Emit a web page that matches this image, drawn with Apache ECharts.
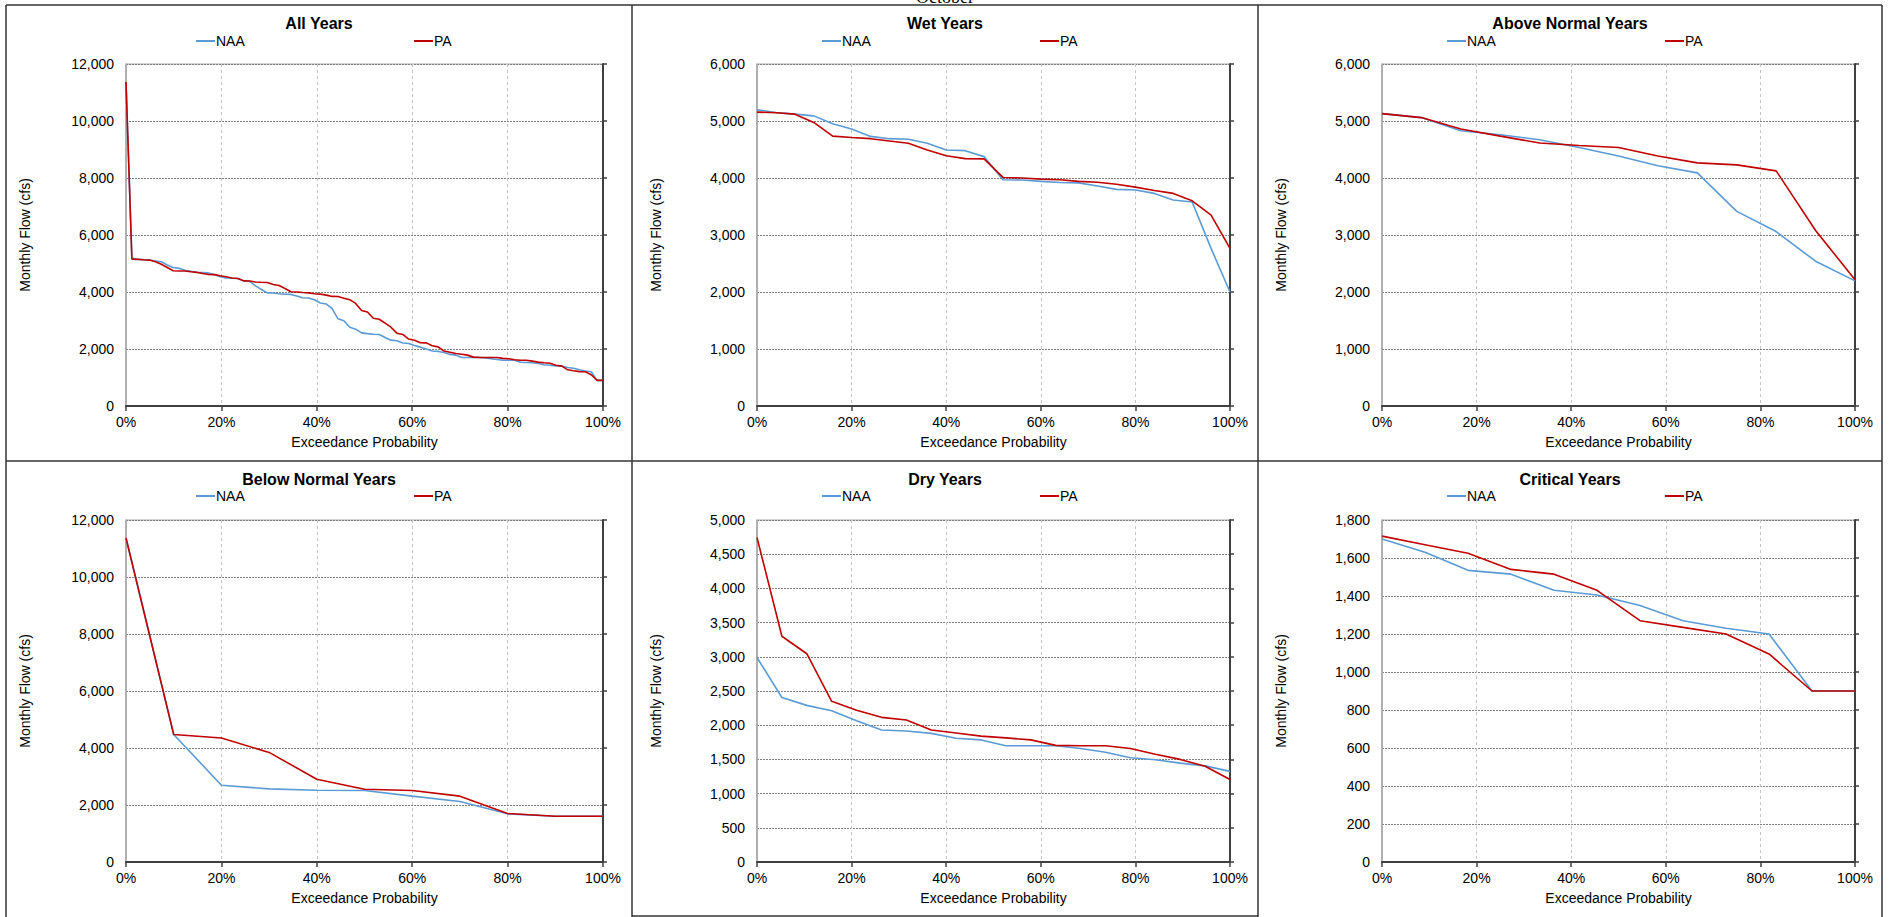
<!DOCTYPE html>
<html>
<head>
<meta charset="utf-8">
<script src="https://cdn.jsdelivr.net/npm/echarts@6/dist/echarts.min.js"></script>
<style>
html,body{margin:0;padding:0;background:#fff;}
#chart{width:1889px;height:917px;}
</style>
</head>
<body>
<div id="chart"></div>
<script>
// ---------------- DATA ----------------
const figureTitle = 'October';
const panelTitles = ['All Years', 'Wet Years', 'Above Normal Years', 'Below Normal Years', 'Dry Years', 'Critical Years'];
const seriesNames = ['NAA', 'PA'];
const xAxisName = 'Exceedance Probability';
const yAxisName = 'Monthly Flow (cfs)';
const yMaxes = [12000, 6000, 6000, 12000, 5000, 1800];
const yIntervals = [2000, 1000, 1000, 2000, 500, 200];

const naaAll = [11370, 5195, 5150, 5130, 5120, 5090, 5060, 4950, 4860, 4830, 4760, 4730, 4690, 4680, 4670, 4610,
  4535, 4490, 4480, 4475, 4385, 4375, 4215, 4090, 3970, 3965, 3940, 3920, 3915, 3860, 3800, 3790, 3730, 3615,
  3580, 3415, 3060, 2990, 2765, 2695, 2565, 2540, 2520, 2510, 2405, 2310, 2290, 2210, 2195, 2120, 2065, 2000,
  1930, 1915, 1880, 1810, 1785, 1700, 1700, 1700, 1700, 1690, 1660, 1630, 1605, 1605, 1605, 1535, 1525, 1515,
  1495, 1445, 1430, 1405, 1405, 1350, 1325, 1270, 1230, 1200, 900, 900];
const paAll = [11370, 5155, 5145, 5130, 5120, 5060, 4975, 4860, 4745, 4735, 4735, 4710, 4690, 4650, 4615, 4610,
  4570, 4535, 4490, 4475, 4390, 4385, 4350, 4340, 4335, 4265, 4230, 4125, 4010, 4000, 3980, 3970, 3940, 3925,
  3890, 3845, 3840, 3780, 3730, 3600, 3350, 3300, 3080, 3045, 2905, 2765, 2555, 2510, 2350, 2310, 2220, 2215,
  2115, 2075, 1930, 1885, 1840, 1815, 1785, 1715, 1705, 1700, 1700, 1700, 1670, 1660, 1625, 1605, 1605, 1575,
  1540, 1515, 1500, 1430, 1400, 1270, 1235, 1205, 1200, 1095, 900, 900];

const naaWet = [5195, 5150, 5120, 5090, 4950, 4860, 4730, 4690, 4680, 4610, 4490, 4480, 4375, 3970, 3965, 3940,
  3920, 3915, 3860, 3800, 3790, 3730, 3615, 3580, 2765, 2000];
const paWet = [5155, 5145, 5120, 4975, 4735, 4710, 4690, 4650, 4610, 4490, 4390, 4340, 4335, 4010, 4000, 3980,
  3970, 3940, 3925, 3890, 3840, 3780, 3730, 3600, 3350, 2765];

const naaAN = [5130, 5060, 4830, 4760, 4670, 4535, 4385, 4215, 4090, 3415, 3060, 2540, 2195];
const paAN = [5130, 5060, 4860, 4735, 4615, 4570, 4535, 4385, 4265, 4230, 4125, 3080, 2215];

const naaBN = [11370, 4475, 2695, 2565, 2520, 2510, 2310, 2120, 1690, 1605, 1605];
const paBN = [11370, 4475, 4350, 3845, 2905, 2555, 2510, 2310, 1700, 1605, 1605];

const naaDry = [2990, 2405, 2290, 2210, 2065, 1930, 1915, 1880, 1810, 1785, 1700, 1700, 1700, 1660, 1605, 1525,
  1495, 1445, 1405, 1325];
const paDry = [4745, 3300, 3045, 2350, 2220, 2115, 2075, 1930, 1885, 1840, 1815, 1785, 1705, 1700, 1700, 1660,
  1575, 1500, 1400, 1205];

const naaCrit = [1700, 1630, 1535, 1515, 1430, 1405, 1350, 1270, 1230, 1200, 900, 900];
const paCrit = [1715, 1670, 1625, 1540, 1515, 1430, 1270, 1235, 1200, 1095, 900, 900];

const panelData = [
  [naaAll, paAll], [naaWet, paWet], [naaAN, paAN],
  [naaBN, paBN], [naaDry, paDry], [naaCrit, paCrit]
];

// ---------------- LAYOUT / STYLE ----------------
const FONT = 'Liberation Sans, Arial, sans-serif';
const colors = ['#5b9bd5', '#c00000'];
const colLeft = [126, 757, 1382];
const colWidth = [477, 473, 473];
const rowTop = [64, 520];
const plotH = 342;
const panelLeft = [6, 632, 1258];
const panelRight = [632, 1258, 1882];
const rowTitleY = [23, 479];
const rowLegendTop = [34, 489];

// exceedance probability (percent) of each ranked value
function withExceedance(vals) {
  const n = vals.length;
  return vals.map((v, i) => [i * 100 / (n - 1), v]);
}

const grids = [], xAxes = [], yAxes = [], series = [], legends = [], graphics = [];

panelTitles.forEach((title, p) => {
  const c = p % 3, r = Math.floor(p / 3);
  grids.push({
    left: colLeft[c], top: rowTop[r], width: colWidth[c], height: plotH,
    show: true, borderColor: '#a6a6a6', borderWidth: 1, backgroundColor: 'transparent'
  });
  xAxes.push({
    type: 'value', gridIndex: p, min: 0, max: 100, interval: 20,
    name: xAxisName, nameLocation: 'middle', nameGap: 29,
    nameTextStyle: { fontFamily: FONT, fontSize: 14, color: '#000' },
    axisLine: { show: true, lineStyle: { color: '#404040', width: 2 } },
    axisTick: { show: true, inside: false, length: 5, lineStyle: { color: '#404040', width: 1.5 } },
    axisLabel: { fontFamily: FONT, fontSize: 14, color: '#000', margin: 9, formatter: '{value}%' },
    splitLine: { show: true, lineStyle: { color: '#c4c4c4', type: [3, 3], width: 1 } }
  });
  const fmt = v => v.toLocaleString('en-US');
  yAxes.push({
    type: 'value', gridIndex: p, min: 0, max: yMaxes[p], interval: yIntervals[p], position: 'left',
    name: yAxisName, nameLocation: 'middle', nameGap: 94,
    nameTextStyle: { fontFamily: FONT, fontSize: 14, color: '#000' },
    axisLine: { show: true, lineStyle: { color: '#a6a6a6', width: 1.5 } },
    axisTick: { show: false },
    axisLabel: { fontFamily: FONT, fontSize: 14, color: '#000', margin: 12, formatter: fmt },
    splitLine: { show: true, lineStyle: { color: '#7f7f7f', type: [2, 1], width: 1 } }
  });
  yAxes.push({
    type: 'value', gridIndex: p, min: 0, max: yMaxes[p], interval: yIntervals[p], position: 'right',
    axisLine: { show: true, lineStyle: { color: '#404040', width: 2 } },
    axisTick: { show: true, inside: false, length: 4, lineStyle: { color: '#404040', width: 1.5 } },
    axisLabel: { show: false },
    splitLine: { show: false }
  });
  seriesNames.forEach((nm, s) => {
    series.push({
      name: nm, type: 'line', xAxisIndex: p, yAxisIndex: 2 * p,
      data: withExceedance(panelData[p][s]),
      symbol: 'none', showSymbol: false, smooth: false,
      lineStyle: { color: colors[s], width: 1.6 },
      itemStyle: { color: colors[s] },
      emphasis: { disabled: true },
      z: 3 + s
    });
  });
  const pc = (panelLeft[c] + panelRight[c]) / 2;
  const legendX = [pc - 123, pc + 95];
  seriesNames.forEach((nm, s) => {
    legends.push({
      data: [nm], left: legendX[s], top: rowLegendTop[r], padding: 0,
      icon: 'rect', itemWidth: 19, itemHeight: 2, itemGap: 0, selectedMode: false,
      itemStyle: { color: colors[s], borderWidth: 0 },
      textStyle: { fontFamily: FONT, fontSize: 14, color: '#000', padding: [0, 0, 0, -4] }
    });
  });
  graphics.push({
    type: 'text', x: pc, y: rowTitleY[r], silent: true,
    style: { text: title, fontFamily: FONT, fontSize: 16, fontWeight: 'bold', fill: '#000',
      align: 'center', verticalAlign: 'middle' }
  });
});

// panel frame lines
const frame = [
  [6, 5, 1882, 5], [6, 5, 6, 917], [1882, 5, 1882, 917],
  [6, 461, 1882, 461], [632, 5, 632, 917], [1258, 5, 1258, 917], [632, 916, 1258, 916]
];
frame.forEach(f => graphics.push({
  type: 'line', silent: true, z: 10,
  shape: { x1: f[0], y1: f[1], x2: f[2], y2: f[3] },
  style: { stroke: '#333', lineWidth: 1.5 }
}));
graphics.push({
  type: 'text', x: 945, y: -12, silent: true,
  style: { text: figureTitle, fontFamily: 'Liberation Serif, Times New Roman, serif', fontSize: 18,
    fill: '#000', align: 'center', verticalAlign: 'top' }
});

const chart = echarts.init(document.getElementById('chart'), null, { renderer: 'svg' });
chart.setOption({
  animation: false,
  backgroundColor: '#fff',
  textStyle: { fontFamily: FONT },
  grid: grids, xAxis: xAxes, yAxis: yAxes, series: series, legend: legends, graphic: graphics
});
</script>
</body>
</html>
